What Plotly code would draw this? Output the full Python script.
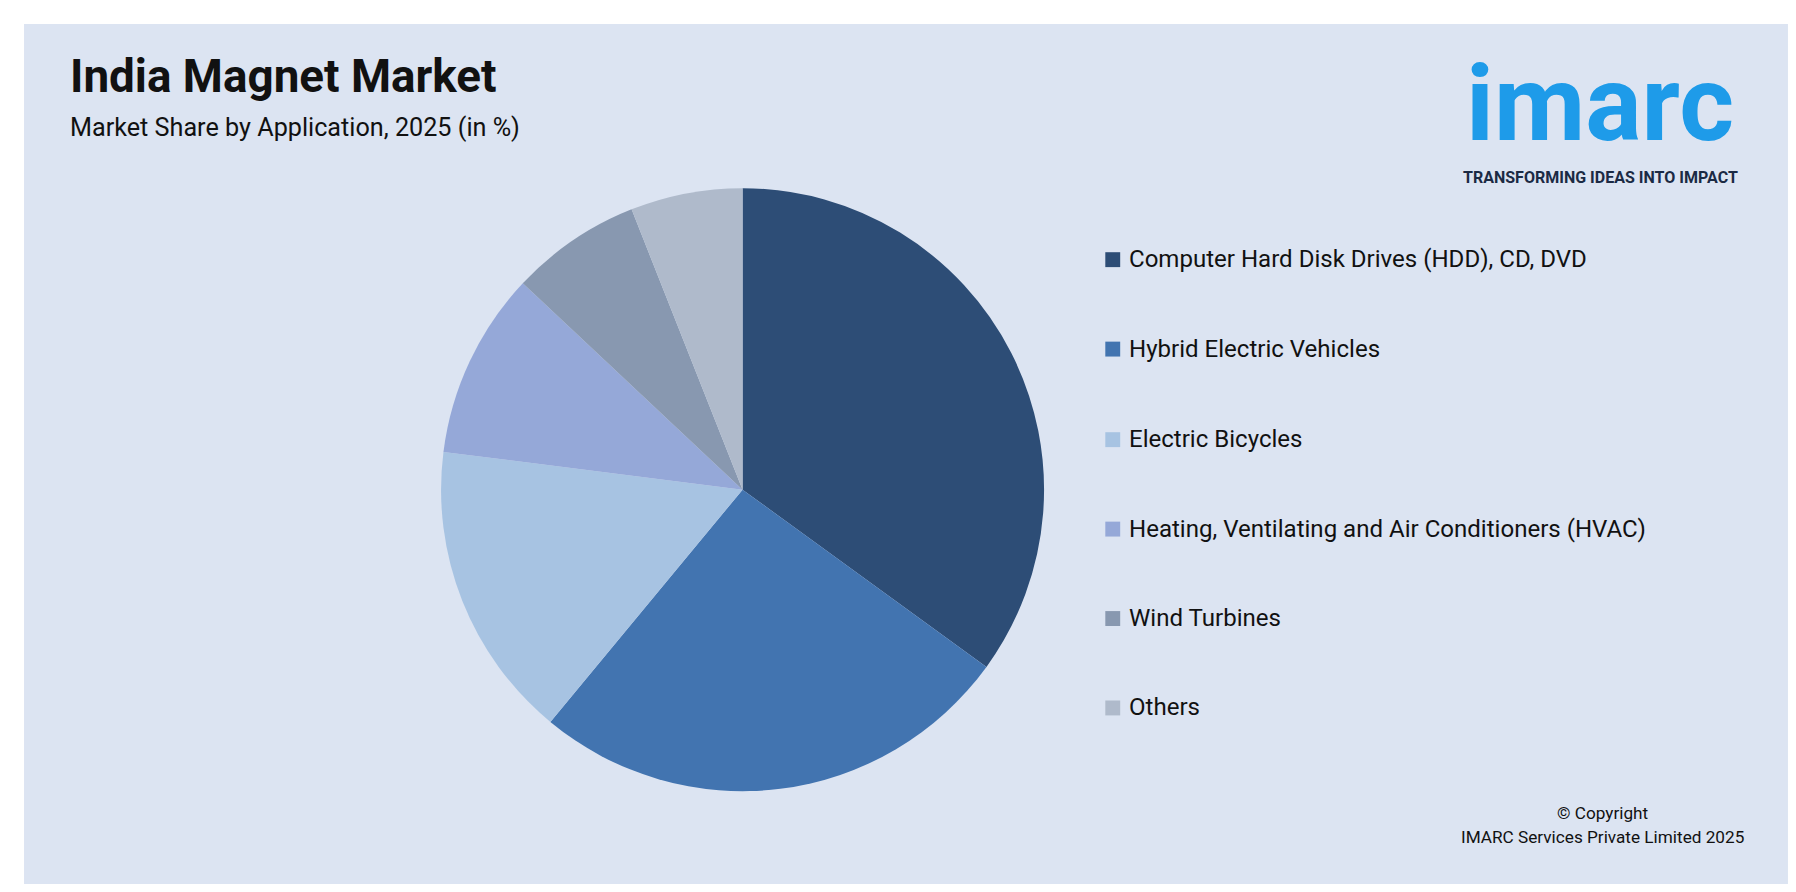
import plotly.graph_objects as go

labels = ["Computer Hard Disk Drives (HDD), CD, DVD", "Hybrid Electric Vehicles", "Electric Bicycles",
          "Heating, Ventilating and Air Conditioners (HVAC)", "Wind Turbines", "Others"]
values = [35, 26, 16, 10, 7, 6]
colors = ["#2d4d76", "#4274b0", "#a7c3e2", "#95a8d8", "#8898b0", "#afbacb"]

W, H = 1568, 778  # reference coordinate frame
def px(x): return x / W
def py(y): return 1 - y / H
S = 1796 / 1568

fig = go.Figure(go.Pie(labels=labels, values=values, sort=False, direction="clockwise", rotation=0,
                       marker=dict(colors=colors), textinfo="none", hoverinfo="label+percent",
                       domain=dict(x=[0.241, 0.577], y=[0.122, 0.798]), showlegend=False))

shapes = [dict(type="rect", xref="paper", yref="paper", x0=px(14), x1=px(1554), y0=py(764), y1=py(14),
               fillcolor="#dce4f2", line=dict(width=0), layer="below")]
ann = [
    dict(text="<b>India Magnet Market</b>", x=px(52), y=py(60), xanchor="left", yanchor="middle",
         font=dict(size=40 * S, color="#111111", family="Roboto")),
    dict(text="Market Share by Application, 2025 (in %)", x=px(52), y=py(104), xanchor="left", yanchor="middle",
         font=dict(size=22 * S, color="#111111", family="Roboto")),
    dict(text="<b>imarc</b>", x=px(1390), y=py(84), xanchor="center", yanchor="middle",
         font=dict(size=92 * S, color="#1e9be9", family="Roboto")),
    dict(text="<b>TRANSFORMING IDEAS INTO IMPACT</b>", x=px(1390), y=py(148), xanchor="center", yanchor="middle",
         font=dict(size=14 * S, color="#1b2a44", family="Roboto")),
    dict(text="© Copyright", x=px(1392), y=py(702), xanchor="center", yanchor="middle",
         font=dict(size=15 * S, color="#111111", family="Roboto")),
    dict(text="IMARC Services Private Limited 2025", x=px(1392), y=py(723), xanchor="center", yanchor="middle",
         font=dict(size=15 * S, color="#111111", family="Roboto")),
]
ys = [219, 297, 376, 454, 532, 610]
for lab, col, y in zip(labels, colors, ys):
    shapes.append(dict(type="rect", xref="paper", yref="paper", x0=px(958), x1=px(971), y0=py(y + 7), y1=py(y - 6),
                       fillcolor=col, line=dict(width=0)))
    ann.append(dict(text=lab, x=px(977), y=py(y), xanchor="left", yanchor="middle",
                    font=dict(size=21 * S, color="#111111", family="Roboto")))
for a in ann:
    a.update(xref="paper", yref="paper", showarrow=False)

fig.update_layout(width=1796, height=892, margin=dict(l=0, r=0, t=0, b=0), paper_bgcolor="white",
                  plot_bgcolor="white", shapes=shapes, annotations=ann)
fig.write_html("out.html")
